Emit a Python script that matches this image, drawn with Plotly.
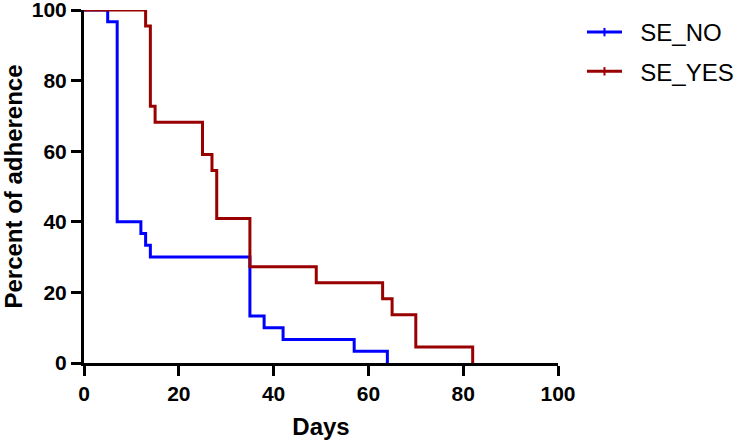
import plotly.graph_objects as go

# Kaplan-Meier style step data (days, percent of adherence)
se_no_days = [0, 5, 7, 12, 13, 14, 35, 38, 42, 57, 64]
se_no_pct = [100, 96.67, 40, 36.67, 33.33, 30, 13.33, 10, 6.67, 3.33, 0]

se_yes_days = [0, 13, 14, 15, 25, 27, 28, 35, 49, 63, 65, 70, 82]
se_yes_pct = [100, 95.45, 72.73, 68.18, 59.09, 54.55, 40.91, 27.27, 22.73, 18.18, 13.64, 4.55, 0]

tick_vals = [0, 20, 40, 60, 80, 100]
series_names = ["SE_NO", "SE_YES"]

BLUE = "#0000FF"
RED = "#990000"
FONT = "Liberation Sans"
NB = "\u00a0\u00a0"

fig = go.Figure()
fig.add_trace(go.Scatter(x=se_no_days, y=se_no_pct, mode="lines", line=dict(color=BLUE, width=3, shape="hv"),
                         showlegend=False, cliponaxis=False))
fig.add_trace(go.Scatter(x=se_yes_days, y=se_yes_pct, mode="lines", line=dict(color=RED, width=3, shape="hv"),
                         showlegend=False, cliponaxis=False))
# legend entries
for name, col, grp in [(series_names[0], BLUE, "a"), (series_names[1], RED, "b")]:
    fig.add_trace(go.Scatter(x=[None], y=[None], mode="lines+markers", name=NB + name, legendgroup=grp,
                             line=dict(color=col, width=3),
                             marker=dict(symbol="line-ns", size=6, line=dict(width=2, color=col))))

axis_common = dict(showline=True, linecolor="black", linewidth=3, ticks="outside", ticklen=10, tickwidth=3,
                   tickcolor="black", showgrid=False, zeroline=False, automargin=False,
                   ticklabeloverflow="allow",
                   tickfont=dict(family=FONT, size=21, color="black", weight="bold"),
                   tickvals=tick_vals, ticktext=[str(v) for v in tick_vals])

fig.update_xaxes(range=[0, 100], title=dict(text="Days", font=dict(family=FONT, size=24, color="black", weight="bold"),
                                            standoff=14), **axis_common)
fig.update_yaxes(range=[0, 100], title=dict(text="Percent of adherence",
                                            font=dict(family=FONT, size=24, color="black", weight="bold"),
                                            standoff=12), **axis_common)

# figure is slightly wider than the window (overflow hidden) so the legend never squeezes the plot
fig.update_layout(
    width=780, height=448,
    margin=dict(l=84, r=222, t=10, b=85),
    plot_bgcolor="white", paper_bgcolor="white",
    font=dict(family=FONT, color="black"),
    legend=dict(x=1.0506, y=1.0, xanchor="left", yanchor="top", font=dict(family=FONT, size=24, color="black"),
                tracegroupgap=5, traceorder="grouped", itemwidth=35, bgcolor="rgba(0,0,0,0)"),
)

fig.write_html("out.html", config={"displayModeBar": False},
               post_script="document.body.style.margin='0';document.body.style.padding='0';"
                           "document.body.style.overflow='hidden';document.documentElement.style.overflow='hidden';")
